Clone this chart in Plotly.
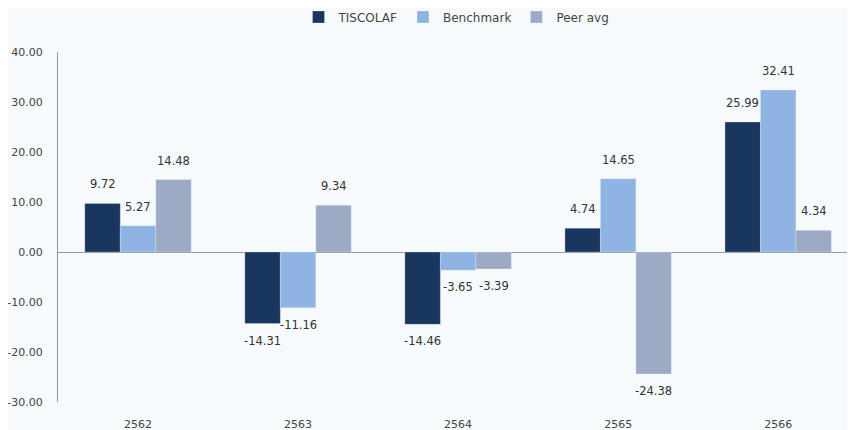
import plotly.graph_objects as go

categories = ["2562", "2563", "2564", "2565", "2566"]
series_names = ["TISCOLAF", "Benchmark", "Peer avg"]
tiscolaf = [9.72, -14.31, -14.46, 4.74, 25.99]
benchmark = [5.27, -11.16, -3.65, 14.65, 32.41]
peer_avg = [14.48, 9.34, -3.39, -24.38, 4.34]
y_ticks = [40, 30, 20, 10, 0, -10, -20, -30]

colors = ["#19365E", "#8DB4E2", "#9DAAC6"]
all_series = [tiscolaf, benchmark, peer_avg]

# page body has an 8px default margin, so the figure is sized to fit inside the window
W, H = 847, 422
margin = dict(l=50, r=0, t=44, b=28, autoexpand=False)
x_range = [-0.5, 4.48]
bargap = 0.335

fig = go.Figure()
for name, vals, col in zip(series_names, all_series, colors):
    fig.add_trace(go.Bar(
        x=categories, y=vals, name=name,
        marker=dict(color=col, line=dict(color="rgba(255,255,255,0.5)", width=0.5)),
    ))

# value labels placed via the category axis index and the y scale
plot_w = W - margin["l"] - margin["r"]
px_per_cat = plot_w / (x_range[1] - x_range[0])
bar_px = px_per_cat * (1 - bargap) / 3
annotations = []
for j, vals in enumerate(all_series):
    for i, v in enumerate(vals):
        annotations.append(dict(
            x=i, y=v, xref="x", yref="y", text=f"{v:.2f}", showarrow=False,
            xshift=(j - 1) * bar_px, yshift=19 if v >= 0 else -17,
            xanchor="center", yanchor="middle",
            font=dict(family="DejaVu Sans", size=11.5, color="#333333"),
        ))

fig.update_layout(
    width=W, height=H, margin=margin,
    barmode="group", bargap=bargap, bargroupgap=0,
    paper_bgcolor="#F7FAFD", plot_bgcolor="#F7FAFD",
    font=dict(family="DejaVu Sans", size=11, color="#444444"),
    legend=dict(orientation="h", x=0.5, xanchor="center", y=1.1, yanchor="middle",
                yref="paper", font=dict(size=12, color="#444444"),
                traceorder="normal"),
    annotations=annotations,
    showlegend=True,
)
fig.update_xaxes(type="category", range=x_range, showline=False, showgrid=False, ticks="",
                 automargin=False, ticklabelstandoff=14,
                 tickfont=dict(size=11, color="#444444"))
fig.update_yaxes(range=[-30, 40], tickvals=y_ticks, ticktext=[f"{t:.2f}" for t in y_ticks],
                 showgrid=False, showline=True, linecolor="#9A9A9A", linewidth=1,
                 zeroline=True, zerolinecolor="#9A9A9A", zerolinewidth=1, automargin=False,
                 ticks="", ticklabelstandoff=12, tickfont=dict(size=11, color="#444444"))

fig.write_html("out.html")
